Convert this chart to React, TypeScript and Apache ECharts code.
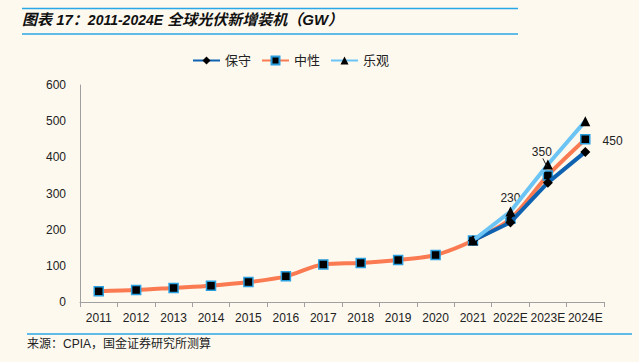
import React, { useEffect, useRef } from "react";
import * as echarts from "echarts";

const categories = ["2011","2012","2013","2014","2015","2016","2017","2018","2019","2020","2021","2022E","2023E","2024E"];
const neutral = [30, 33, 39, 45, 55, 71, 104, 108, 116, 130, 170, 230, 350, 450];
const conservative = [null, null, null, null, null, null, null, null, null, null, 170, 220, 330, 415];
const optimistic = [null, null, null, null, null, null, null, null, null, null, 170, 250, 380, 500];
const labelled = ["2022E", "2023E", "2024E"];

const FONT = "'Liberation Sans', Arial, 'Noto Sans CJK SC', sans-serif";

export default function App() {
  const ref = useRef<HTMLDivElement>(null);
  useEffect(() => {
    if (!ref.current) return;
    const chart = echarts.init(ref.current, null, { renderer: "svg" });
    const labelPos: Record<string, any> = {
      "2022E": { position: "top", distance: 10, offset: [0, 0] },
      "2023E": { position: "top", distance: 12, offset: [-6, 0] },
      "2024E": { position: "right", distance: 10, offset: [2, 2] },
    };
    const neutralData = neutral.map((v, i) => {
      const c = categories[i];
      if (labelled.indexOf(c) >= 0) {
        return { value: v, label: { show: true, ...labelPos[c] } };
      }
      return v;
    });
    const baseGraphic: any[] = [
      { type: "line", shape: { x1: 22, y1: 8.5, x2: 518, y2: 8.5 }, style: { stroke: "#2AA7E6", lineWidth: 1.5 } },
      { type: "line", shape: { x1: 22, y1: 34, x2: 518, y2: 34 }, style: { stroke: "#2AA7E6", lineWidth: 1.5 } },
      {
        type: "text", left: 22, top: 12,
        style: {
          text: "{a|图表 17：}{b|2011-2024E}{a| 全球光伏新增装机（GW）}",
          fill: "#111",
          rich: {
            a: { fontSize: 15, fontWeight: "bold", fontStyle: "italic", fontFamily: FONT, fill: "#111" },
            b: { fontSize: 14, fontWeight: "bold", fontStyle: "italic", fontFamily: FONT, fill: "#111" },
          },
        },
      },
      { type: "line", shape: { x1: 27, y1: 334, x2: 632, y2: 334 }, style: { stroke: "#2AA7E6", lineWidth: 1.5 } },
      {
        type: "text", left: 27, top: 338,
        style: { text: "来源：CPIA，国金证券研究所测算", fontSize: 12, fill: "#222", fontFamily: FONT },
      },
    ];
    chart.setOption({
      animation: false,
      backgroundColor: "#FDF9EF",
      textStyle: { fontFamily: FONT },
      graphic: baseGraphic,
      legend: {
        top: 49, left: 187,
        itemWidth: 27, itemHeight: 10, itemGap: 10,
        textStyle: { fontSize: 13, color: "#222" },
        data: ["保守", "中性", "乐观"],
      },
      grid: { left: 80, right: 35, top: 85, bottom: 60 },
      xAxis: {
        type: "category",
        data: categories,
        boundaryGap: true,
        axisLine: { lineStyle: { color: "#A0A0A0", width: 1 } },
        axisTick: { show: true, inside: false, length: 5, lineStyle: { color: "#A0A0A0" } },
        axisLabel: { color: "#222", fontSize: 12, margin: 10, interval: 0 },
      },
      yAxis: {
        type: "value",
        min: 0, max: 600, interval: 100,
        axisLine: { show: true, lineStyle: { color: "#A0A0A0" } },
        axisTick: { show: false },
        splitLine: { show: false },
        axisLabel: { color: "#222", fontSize: 12, margin: 14 },
      },
      series: [
        {
          name: "中性", type: "line", data: neutralData, smooth: 0.3,
          z: 2,
          lineStyle: { color: "#FA7A52", width: 4 },
          itemStyle: { color: "#000", borderColor: "#2A9FE0", borderWidth: 1.5 },
          symbol: "rect", symbolSize: 9,
          label: { show: false, color: "#222", fontSize: 12 },
          emphasis: { disabled: true },
        },
        {
          name: "保守", type: "line", data: conservative,
          z: 3,
          lineStyle: { color: "#0F62B0", width: 4 },
          itemStyle: { color: "#000", borderColor: "#000", borderWidth: 0 },
          symbol: "diamond", symbolSize: 10,
          emphasis: { disabled: true },
        },
        {
          name: "乐观", type: "line", data: optimistic,
          z: 4,
          lineStyle: { color: "#6CC4F4", width: 4 },
          itemStyle: { color: "#000", borderWidth: 0 },
          symbol: "triangle", symbolSize: 10,
          emphasis: { disabled: true },
        },
      ],
    });
    const idx = categories.indexOf("2023E");
    const p = chart.convertToPixel({ seriesIndex: 0 }, [idx, neutral[idx]]) as number[];
    if (p) {
      chart.setOption({
        graphic: [
          ...baseGraphic,
          { type: "line", z: 10, shape: { x1: p[0] - 5, y1: p[1] - 17, x2: p[0] - 1, y2: p[1] - 9 }, style: { stroke: "#222", lineWidth: 1 } },
        ],
      });
    }
    return () => chart.dispose();
  }, []);
  return (
    <div
      ref={ref}
      style={{ position: "absolute", left: 0, top: 0, width: 639, height: 362 }}
    />
  );
}
